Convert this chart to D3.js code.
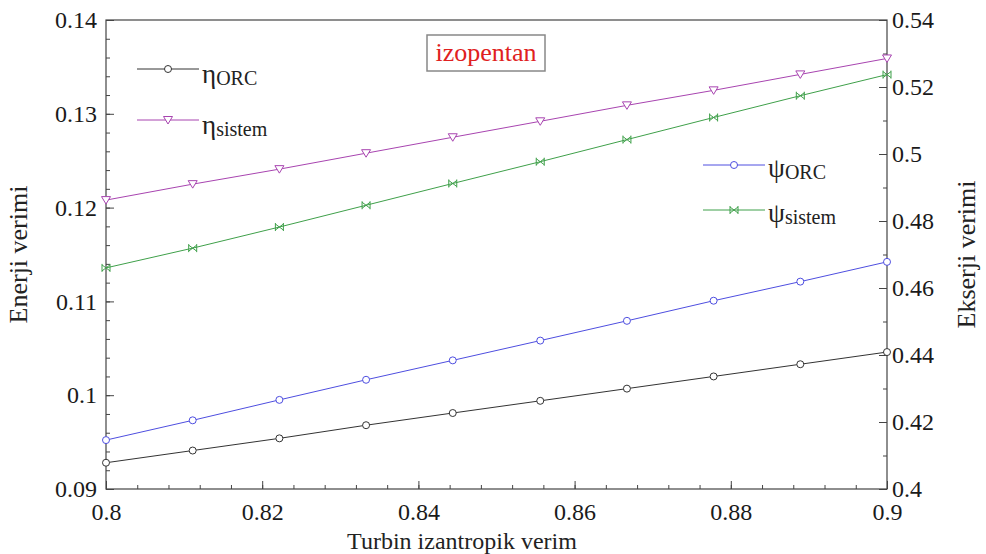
<!DOCTYPE html>
<html><head><meta charset="utf-8">
<script src="https://cdn.jsdelivr.net/npm/d3@7"></script>
<style>body{margin:0;background:#fff}svg{display:block}</style>
</head><body>
<svg id="c" width="986" height="554"></svg>
<script>
const xVals = [0.8, 0.8111, 0.8222, 0.8333, 0.8444, 0.8556, 0.8667, 0.8778, 0.8889, 0.9];
const etaORC = [0.0928, 0.0941, 0.0954, 0.0968, 0.0981, 0.0994, 0.1007, 0.1020, 0.1033, 0.1046];
const etaSistem = [0.1208, 0.1225, 0.1241, 0.1258, 0.1275, 0.1292, 0.1309, 0.1325, 0.1342, 0.1359];
const psiORC = [0.4146, 0.4205, 0.4266, 0.4326, 0.4384, 0.4443, 0.4502, 0.4562, 0.4619, 0.4678];
const psiSistem = [0.4660, 0.4719, 0.4782, 0.4847, 0.4912, 0.4977, 0.5043, 0.5109, 0.5174, 0.5237];
const xTicks = [0.8, 0.82, 0.84, 0.86, 0.88, 0.9];
const yLeftTicks = [0.09, 0.1, 0.11, 0.12, 0.13, 0.14];
const yRightTicks = [0.4, 0.42, 0.44, 0.46, 0.48, 0.5, 0.52, 0.54];

const FONT = '"Liberation Serif", "Times New Roman", serif';
const svg = d3.select("#c").attr("font-family", FONT);
const L = 106, R = 887, T = 20, B = 489;
const x = d3.scaleLinear().domain([0.8, 0.9]).range([L, R]);
const yL = d3.scaleLinear().domain([0.09, 0.14]).range([B, T]);
const yR = d3.scaleLinear().domain([0.4, 0.54]).range([B, T]);

const axisColor = "#444";
const TICKFS = 24;
svg.append("rect").attr("x", L).attr("y", T).attr("width", R - L).attr("height", B - T)
  .attr("fill", "none").attr("stroke", axisColor).attr("stroke-width", 1.2);

const gx = svg.append("g").attr("transform", `translate(0,${B})`)
  .call(d3.axisBottom(x).tickValues(xTicks).tickFormat(d3.format("")).tickSize(-8).tickPadding(14));
const gxm = svg.append("g").attr("transform", `translate(0,${B})`)
  .call(d3.axisBottom(x).tickValues(d3.range(0, 26).map(i => 0.8 + i * 0.004)).tickFormat("").tickSize(-4));
const gy = svg.append("g").attr("transform", `translate(${L},0)`)
  .call(d3.axisLeft(yL).tickValues(yLeftTicks).tickFormat(d3.format("")).tickSize(-8).tickPadding(9));
const gym = svg.append("g").attr("transform", `translate(${L},0)`)
  .call(d3.axisLeft(yL).tickValues(d3.range(0, 26).map(i => 0.09 + i * 0.002)).tickFormat("").tickSize(-4));
const gr = svg.append("g").attr("transform", `translate(${R},0)`)
  .call(d3.axisRight(yR).tickValues(yRightTicks).tickFormat(d3.format("")).tickSize(-8).tickPadding(5));
const grm = svg.append("g").attr("transform", `translate(${R},0)`)
  .call(d3.axisRight(yR).tickValues(d3.range(0, 15).map(i => 0.4 + i * 0.01)).tickFormat("").tickSize(-4));

[gx, gxm, gy, gym, gr, grm].forEach(g => {
  g.attr("font-family", FONT).attr("font-size", TICKFS);
  g.select(".domain").remove();
  g.selectAll("line").attr("stroke", axisColor);
  g.selectAll("text").attr("fill", "#1a1a1a").attr("font-family", FONT).attr("font-size", TICKFS);
});

const series = [
  {vals: etaORC, y: yL, color: "#333333", marker: "circle"},
  {vals: etaSistem, y: yL, color: "#a844b0", marker: "tri"},
  {vals: psiORC, y: yR, color: "#4e4ee0", marker: "circle"},
  {vals: psiSistem, y: yR, color: "#3fa04a", marker: "bow"}
];

function drawMarker(g, type, cx, cy, color) {
  if (type === "circle") {
    g.append("circle").attr("cx", cx).attr("cy", cy).attr("r", 3.5)
      .attr("fill", "#fff").attr("stroke", color).attr("stroke-width", 1);
  } else if (type === "tri") {
    g.append("path").attr("d", `M${cx-4.5},${cy-3.5}L${cx+4.5},${cy-3.5}L${cx},${cy+4}Z`)
      .attr("fill", "#fff").attr("stroke", color).attr("stroke-width", 1);
  } else {
    g.append("path").attr("d", `M${cx-4},${cy-4}L${cx-4},${cy+4}M${cx+4},${cy-4}L${cx+4},${cy+4}M${cx-4},${cy-3}L${cx+4},${cy+3}M${cx-4},${cy+3}L${cx+4},${cy-3}`)
      .attr("fill", "none").attr("stroke", color).attr("stroke-width", 1);
  }
}

series.forEach(s => {
  const line = d3.line().x((d, i) => x(xVals[i])).y(d => s.y(d));
  svg.append("path").datum(s.vals).attr("d", line).attr("fill", "none")
    .attr("stroke", s.color).attr("stroke-width", 1);
  const mg = svg.append("g");
  s.vals.forEach((v, i) => drawMarker(mg, s.marker, x(xVals[i]), s.y(v), s.color));
});

const legends = [
  {sym: "η", sub: "ORC", color: "#333333", marker: "circle", x0: 137, y0: 69, dy: 14},
  {sym: "η", sub: "sistem", color: "#a844b0", marker: "tri", x0: 137, y0: 120, dy: 14},
  {sym: "ψ", sub: "ORC", color: "#4e4ee0", marker: "circle", x0: 703, y0: 165, dy: 12},
  {sym: "ψ", sub: "sistem", color: "#3fa04a", marker: "bow", x0: 703, y0: 210, dy: 12}
];
legends.forEach(l => {
  const g = svg.append("g");
  g.append("line").attr("x1", l.x0).attr("x2", l.x0 + 62).attr("y1", l.y0).attr("y2", l.y0)
    .attr("stroke", l.color).attr("stroke-width", 1);
  drawMarker(g, l.marker, l.x0 + 31, l.y0, l.color);
  const t = g.append("text").attr("x", l.x0 + 65).attr("y", l.y0 + l.dy).attr("fill", "#222")
    .attr("font-family", FONT);
  t.append("tspan").attr("font-size", 27).text(l.sym);
  t.append("tspan").attr("font-size", 20).attr("dy", 2).text(l.sub);
});

svg.append("rect").attr("x", 427).attr("y", 35).attr("width", 118).attr("height", 36)
  .attr("fill", "#fff").attr("stroke", "#888").attr("stroke-width", 1.5);
svg.append("text").attr("x", 486).attr("y", 61).attr("text-anchor", "middle")
  .attr("font-size", 26).attr("fill", "#e02020").attr("font-family", FONT).text("izopentan");

svg.append("text").attr("x", 462).attr("y", 549).attr("text-anchor", "middle")
  .attr("font-size", 24).attr("fill", "#222").attr("font-family", FONT).text("Turbin izantropik verim");
svg.append("text").attr("transform", `translate(27,${(T + B) / 2}) rotate(-90)`)
  .attr("text-anchor", "middle").attr("font-size", 26).attr("fill", "#222").attr("font-family", FONT).text("Enerji verimi");
svg.append("text").attr("transform", `translate(975,${(T + B) / 2}) rotate(-90)`)
  .attr("text-anchor", "middle").attr("font-size", 26).attr("fill", "#222").attr("font-family", FONT).text("Ekserji verimi");
</script>
</body></html>
